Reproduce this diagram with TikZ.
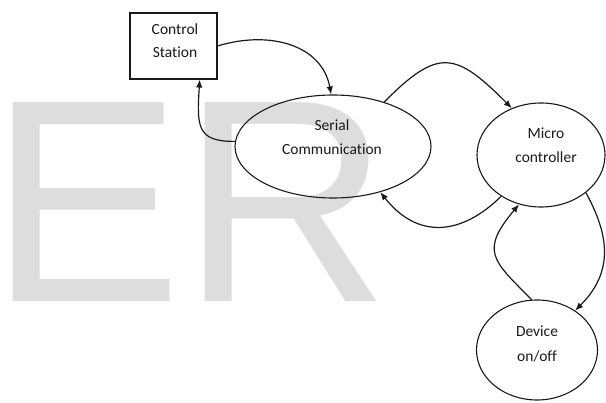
\documentclass[tikz,border=0pt]{standalone}
\usepackage{fontspec}
\setmainfont{Carlito}[Ligatures={NoCommon}]
\newfontfamily\wmfont{Liberation Sans}
\usetikzlibrary{shapes.geometric,arrows.meta}
\definecolor{wm}{RGB}{221,221,221}
\definecolor{ink}{RGB}{25,25,25}
\begin{document}
\begin{tikzpicture}[x=1pt,y=-1pt,
  stepbox/.style={draw=ink,line width=1.1pt,rectangle,minimum width=87pt,minimum height=66pt,inner sep=0pt},
  oval/.style={draw=ink,line width=1.1pt,ellipse,inner sep=0pt},
  lbl/.style={anchor=base,inner sep=0pt,text=ink,font=\fontsize{15.5}{18}\selectfont},
  conn/.style={draw=ink,line width=1.2pt,-{Latex[length=8pt,width=6.5pt]}}]
\useasboundingbox (0,0) rectangle (606,403);
% watermark
\node[anchor=base west,inner sep=0pt,text=wm,font=\wmfont\fontsize{289}{289}\selectfont] (wm) at (-11,302) {ER};
% shapes
\node[stepbox] (cs) at (173.5,46) {};
\node[oval,minimum width=196pt,minimum height=103pt] (ser) at (333,146.5) {};
\node[oval,minimum width=128pt,minimum height=104pt] (mic) at (541,155) {};
\node[oval,minimum width=121pt,minimum height=100pt] (dev) at (537,350) {};
% labels
\node[lbl] (cs1) at (175,35) {Control};
\node[lbl] (cs2) at (175,58) {Station};
\node[lbl] (ser1) at (332,131) {Serial};
\node[lbl] (ser2) at (332,155) {Communication};
\node[lbl] (mic1) at (546,139) {Micro};
\node[lbl] (mic2) at (546,163) {controller};
\node[lbl] (dev1) at (537,337) {Device};
\node[lbl] (dev2) at (537,362) {on/off};
% connectors
\draw[conn] (cs.east) .. controls (270,30) and (322,45) .. (ser.92);
\draw[conn] (ser.177) .. controls (196,142) and (197,125) .. (cs.-52);
\draw[conn] (ser.41) .. controls (438,48) and (455,51) .. (mic.122);
\draw[conn] (mic.226) .. controls (462,235) and (418,240) .. (ser.-44);
\draw[conn] (dev.96) .. controls (492,260) and (480,251) .. (mic.246);
\draw[conn] (mic.-40) .. controls (605,228) and (618,268) .. (dev.46);
\end{tikzpicture}
\end{document}
